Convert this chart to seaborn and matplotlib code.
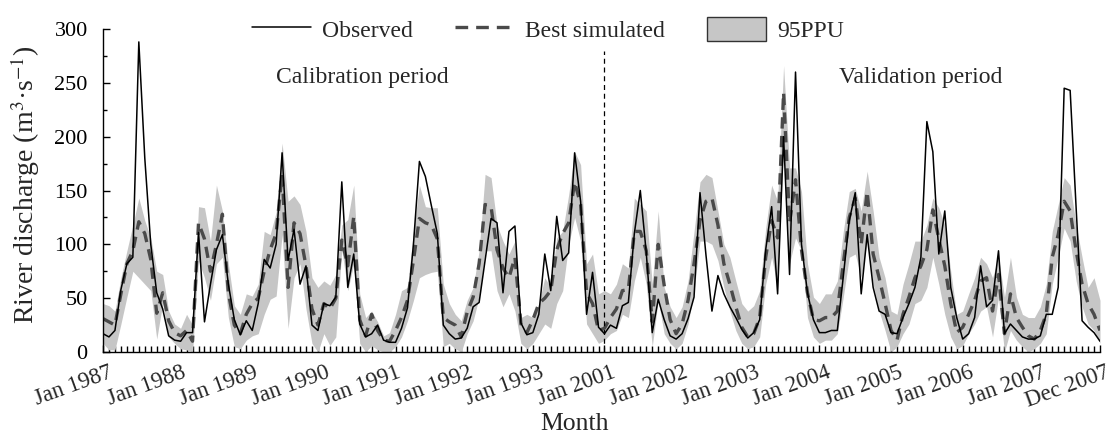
import numpy as np
import pandas as pd
import matplotlib
matplotlib.use("Agg")
import matplotlib.pyplot as plt
import matplotlib.transforms as mtransforms
from matplotlib.lines import Line2D
from matplotlib.patches import Patch
from matplotlib.ticker import MultipleLocator
import seaborn as sns

# ---------------- data (monthly, Jan 1987-Dec 1993 and Jan 2001-Dec 2007) ----------------
observed = [
    17, 14, 20, 58, 82, 88, 288, 180, 100, 55, 40, 15,      # 1987
    11, 10, 18, 18, 111, 28, 63, 95, 109, 63, 30, 16,       # 1988
    29, 20, 45, 86, 78, 100, 185, 85, 114, 63, 80, 25,      # 1989
    20, 45, 43, 51, 158, 60, 91, 26, 14, 17, 25, 11,        # 1990
    9, 9, 22, 41, 100, 177, 163, 136, 110, 25, 17, 12,      # 1991
    13, 22, 42, 46, 85, 124, 120, 55, 112, 117, 27, 16,     # 1992
    18, 35, 91, 57, 126, 85, 92, 185, 140, 35, 74, 23,      # 1993
    17, 25, 22, 43, 46, 110, 150, 92, 18, 49, 30, 15,       # 2001
    12, 17, 31, 51, 148, 90, 38, 71, 54, 42, 32, 21,        # 2002
    13, 18, 30, 95, 135, 54, 200, 72, 260, 100, 55, 30,     # 2003
    18, 18, 20, 20, 70, 122, 148, 54, 109, 60, 38, 35,      # 2004
    18, 17, 32, 45, 60, 88, 214, 186, 91, 131, 60, 32,      # 2005
    12, 17, 32, 80, 42, 48, 94, 17, 26, 20, 14, 12,         # 2006
    12, 15, 35, 35, 60, 245, 243, 134, 29, 23, 18, 10,      # 2007
]
simulated = [
    31, 28, 25, 54, 82, 94, 121, 110, 86, 36, 55, 29,
    18, 15, 20, 10, 120, 105, 75, 100, 128, 55, 25, 17,
    35, 45, 50, 75, 95, 110, 165, 60, 120, 110, 80, 40,
    25, 45, 40, 50, 104, 80, 126, 30, 15, 35, 20, 11,
    10, 20, 32, 48, 85, 124, 120, 118, 105, 32, 28, 25,
    14, 37, 51, 82, 137, 135, 95, 78, 69, 88, 26, 18,
    30, 45, 50, 57, 95, 110, 120, 158, 137, 55, 45, 20,
    22, 32, 40, 57, 58, 112, 112, 94, 28, 100, 62, 30,
    17, 26, 48, 82, 122, 140, 143, 118, 82, 63, 42, 23,
    14, 17, 32, 88, 122, 106, 241, 120, 160, 95, 55, 30,
    29, 32, 32, 38, 82, 125, 143, 100, 149, 91, 69, 45,
    20, 11, 35, 51, 69, 80, 95, 132, 105, 80, 45, 18,
    23, 35, 48, 66, 69, 38, 72, 17, 54, 32, 23, 15,
    12, 20, 35, 88, 109, 140, 131, 94, 63, 45, 35, 20,
]
ppu_upper = [
    45, 43, 38, 69, 94, 118, 143, 122, 106, 75, 72, 38,
    26, 22, 35, 25, 135, 134, 103, 155, 131, 82, 43, 35,
    54, 52, 63, 112, 109, 130, 194, 140, 145, 137, 112, 69,
    60, 66, 62, 72, 118, 123, 155, 54, 32, 38, 28, 15,
    18, 35, 57, 60, 112, 155, 135, 134, 134, 63, 45, 35,
    29, 48, 60, 94, 165, 162, 118, 103, 91, 103, 32, 35,
    32, 45, 69, 60, 106, 112, 146, 186, 174, 82, 91, 54,
    57, 54, 63, 82, 78, 143, 137, 131, 63, 131, 60, 42,
    32, 42, 66, 112, 158, 165, 162, 131, 100, 88, 66, 45,
    38, 43, 57, 115, 155, 140, 266, 171, 171, 149, 82, 51,
    45, 54, 54, 66, 112, 149, 152, 131, 168, 131, 88, 69,
    38, 35, 63, 82, 103, 103, 118, 143, 134, 118, 75, 35,
    38, 54, 69, 88, 82, 69, 88, 51, 88, 51, 35, 32,
    32, 42, 63, 112, 137, 162, 155, 118, 88, 60, 69, 48,
]
ppu_lower = [
    8, 2, 2, 26, 51, 75, 69, 63, 57, 12, 45, 14,
    8, 3, 2, 0, 85, 69, 48, 82, 88, 32, 5, 3,
    11, 15, 17, 35, 49, 52, 109, 22, 69, 82, 40, 8,
    0, 17, 6, 14, 95, 57, 82, 8, 0, 6, 2, 0,
    0, 5, 14, 29, 48, 69, 72, 74, 75, 5, 8, 3,
    0, 17, 29, 51, 94, 94, 57, 42, 54, 38, 8, 3,
    8, 17, 26, 22, 45, 57, 100, 125, 103, 26, 17, 8,
    11, 17, 20, 35, 32, 66, 88, 63, 5, 48, 17, 8,
    3, 8, 26, 57, 103, 103, 100, 85, 60, 38, 20, 8,
    3, 5, 14, 63, 88, 60, 195, 82, 106, 94, 32, 14,
    8, 11, 11, 17, 51, 88, 91, 69, 103, 63, 38, 20,
    0, 5, 17, 26, 45, 48, 60, 88, 63, 35, 14, 3,
    6, 17, 26, 38, 42, 14, 51, 0, 20, 11, 5, 0,
    3, 8, 17, 63, 88, 115, 103, 66, 42, 26, 20, 8,
]
tick_labels = ["Jan 1987", "Jan 1988", "Jan 1989", "Jan 1990", "Jan 1991",
               "Jan 1992", "Jan 1993", "Jan 2001", "Jan 2002", "Jan 2003",
               "Jan 2004", "Jan 2005", "Jan 2006", "Jan 2007", "Dec 2007"]
period_labels = ["Calibration period", "Validation period"]
series_labels = ["Observed", "Best simulated", "95PPU"]

month = np.arange(len(observed))
split_month = 84  # Jan 2001

df = pd.DataFrame({"month": month, "Observed": observed, "Best simulated": simulated,
                   "lower": ppu_lower, "upper": ppu_upper})

# ---------------- style ----------------
sns.set_style("ticks")
plt.rcParams["font.family"] = ["Liberation Serif", "DejaVu Serif"]
plt.rcParams["mathtext.fontset"] = "stix"

band_color = "#c6c6c6"
sim_color = "#4a4a4a"
sim_dash = (0, (3.4, 2.2))
legend_dash = (0, (3.8, 2.4))

fig = plt.figure(figsize=(11.13, 4.34), dpi=100)
ax = fig.add_axes([103 / 1113, 82 / 434, 997 / 1113, 323 / 434])

ax.fill_between(df["month"], df["lower"], df["upper"], color=band_color, lw=0, zorder=1)
sns.lineplot(data=df, x="month", y="Best simulated", ax=ax, color=sim_color, lw=2.4,
             linestyle=sim_dash, zorder=2)
sns.lineplot(data=df, x="month", y="Observed", ax=ax, color="black", lw=1.1, zorder=3)

ax.axvline(split_month, ymin=0, ymax=280 / 300, color="black", lw=0.9,
           linestyle=(0, (4, 3)), zorder=4)

ax.text(43.5, 255, period_labels[0], ha="center", va="center", fontsize=17)
ax.text(137, 255, period_labels[1], ha="center", va="center", fontsize=17)

ax.set_xlim(0, len(observed) - 1)
ax.set_ylim(0, 300)

major_pos = list(range(0, len(observed), 12)) + [len(observed) - 1]
ax.set_xticks(major_pos)
ax.set_xticklabels([])
ax.xaxis.set_minor_locator(MultipleLocator(1))
ax.yaxis.set_major_locator(MultipleLocator(50))
ax.yaxis.set_minor_locator(MultipleLocator(25))
ax.tick_params(axis="both", which="both", direction="in", width=1, colors="black")
ax.tick_params(axis="x", which="major", length=5)
ax.tick_params(axis="x", which="minor", length=4)
ax.tick_params(axis="y", which="major", length=5, pad=11, labelsize=16)
ax.tick_params(axis="y", which="minor", length=3)

# rotated month labels, placed at the major tick positions
blend = mtransforms.blended_transform_factory(ax.transData, ax.transAxes)
for k, (pos, lab) in enumerate(zip(major_pos, tick_labels)):
    dx = 5 if k in (0, len(major_pos) - 1) else 7
    tr = blend + mtransforms.ScaledTranslation(dx / 100, -10 / 100, fig.dpi_scale_trans)
    ax.text(pos, 0, lab, transform=tr, rotation=20, ha="right", va="top",
            rotation_mode="anchor", fontsize=16.5, clip_on=False)

sns.despine(ax=ax)
for s in ["left", "bottom"]:
    ax.spines[s].set_color("black")
    ax.spines[s].set_linewidth(1)

ax.set_xlabel("Month", fontsize=18.5)
ax.xaxis.set_label_coords(0.473, -0.19)
ax.set_ylabel(r"River discharge (m$^{3}$·s$^{-1}$)", fontsize=20)
ax.yaxis.set_label_coords(-0.061, 0.517)

handles = [Line2D([], [], color="black", lw=1.1),
           Line2D([], [], color=sim_color, lw=2.4, linestyle=legend_dash),
           Patch(facecolor=band_color, edgecolor="#333333", lw=1)]
fig.legend(handles, series_labels, loc="center", bbox_to_anchor=(0.4924, 0.933), ncol=3,
           frameon=False, fontsize=17, handlelength=2.5, handletextpad=0.45,
           columnspacing=1.8, handleheight=1.2)

fig.savefig("out.png", dpi=100)
